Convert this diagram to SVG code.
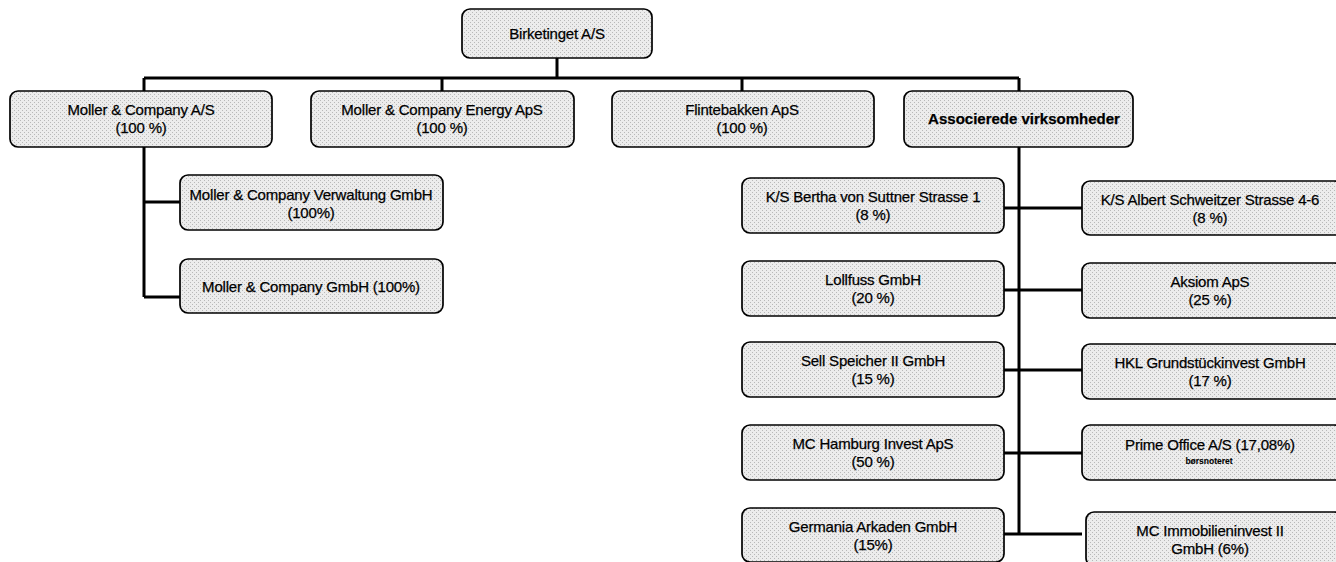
<svg xmlns="http://www.w3.org/2000/svg" width="1336" height="562" viewBox="0 0 1336 562">
<defs>
<pattern id="dots" width="4" height="4" patternUnits="userSpaceOnUse">
<rect width="4" height="4" fill="#ececec"/>
<rect x="0" y="0" width="1" height="1" fill="#b8b8b8"/>
<rect x="2" y="2" width="1" height="1" fill="#b8b8b8"/>
</pattern>
</defs>
<style>
.box{fill:url(#dots);stroke:#000;stroke-width:1.7}
.t{font-family:"Liberation Sans",Arial,sans-serif;font-size:15px;fill:#000;stroke:#000;stroke-width:0.25;text-anchor:middle;letter-spacing:-0.2px}
.b{font-weight:bold;letter-spacing:0}
.s{font-size:8.5px;font-weight:bold;letter-spacing:0;stroke-width:0.1}
.c{fill:none;stroke:#000;stroke-width:3}
</style>
<rect width="1336" height="562" fill="#fff"/>
<g id="connectors">
<path class="c" d="M557 58V78M144 78H1019M144 78V91M442 78V91M742 78V91M1019 78V91"/>
<path class="c" d="M144 147V297M144 202H180M144 297H180"/>
<path class="c" d="M1019 147V534M1004 208H1082M1004 290H1082M1004 370H1082M1004 453H1082M1004 534H1082"/>
</g>
<g id="n-birketinget"><rect class="box" x="462" y="9" width="190" height="49" rx="8"/><text class="t" x="557" y="39">Birketinget A/S</text></g>
<g id="n-moller-as"><rect class="box" x="10" y="91" width="262" height="56" rx="8"/><text class="t" x="141" y="115">Moller &amp; Company A/S</text><text class="t" x="141" y="133">(100 %)</text></g>
<g id="n-moller-energy"><rect class="box" x="311" y="91" width="263" height="56" rx="8"/><text class="t" x="442" y="115">Moller &amp; Company Energy ApS</text><text class="t" x="442" y="133">(100 %)</text></g>
<g id="n-flintebakken"><rect class="box" x="612" y="91" width="262" height="56" rx="8"/><text class="t" x="742" y="115">Flintebakken ApS</text><text class="t" x="742" y="133">(100 %)</text></g>
<g id="n-associerede"><rect class="box" x="904" y="91" width="229" height="56" rx="8"/><text class="t b" x="1024" y="124">Associerede virksomheder</text></g>
<g id="n-verwaltung"><rect class="box" x="180" y="175" width="263" height="55" rx="8"/><text class="t" x="311" y="200">Moller &amp; Company Verwaltung GmbH</text><text class="t" x="311" y="218">(100%)</text></g>
<g id="n-moller-gmbh"><rect class="box" x="180" y="259" width="263" height="54" rx="8"/><text class="t" x="311" y="292">Moller &amp; Company GmbH (100%)</text></g>
<g id="n-bertha"><rect class="box" x="742" y="178" width="262" height="55" rx="8"/><text class="t" x="873" y="202">K/S Bertha von Suttner Strasse 1</text><text class="t" x="873" y="220">(8 %)</text></g>
<g id="n-lollfuss"><rect class="box" x="742" y="261" width="262" height="55" rx="8"/><text class="t" x="873" y="285">Lollfuss GmbH</text><text class="t" x="873" y="303">(20 %)</text></g>
<g id="n-sell"><rect class="box" x="742" y="342" width="262" height="55" rx="8"/><text class="t" x="873" y="366">Sell Speicher II GmbH</text><text class="t" x="873" y="384">(15 %)</text></g>
<g id="n-hamburg"><rect class="box" x="742" y="425" width="262" height="55" rx="8"/><text class="t" x="873" y="449">MC Hamburg Invest ApS</text><text class="t" x="873" y="467">(50 %)</text></g>
<g id="n-germania"><rect class="box" x="742" y="508" width="262" height="54" rx="8"/><text class="t" x="873" y="532">Germania Arkaden GmbH</text><text class="t" x="873" y="550">(15%)</text></g>
<g id="n-albert"><rect class="box" x="1082" y="181" width="260" height="54" rx="8"/><text class="t" x="1210" y="205">K/S Albert Schweitzer Strasse 4-6</text><text class="t" x="1210" y="223">(8 %)</text></g>
<g id="n-aksiom"><rect class="box" x="1082" y="263" width="260" height="55" rx="8"/><text class="t" x="1210" y="287">Aksiom ApS</text><text class="t" x="1210" y="305">(25 %)</text></g>
<g id="n-hkl"><rect class="box" x="1082" y="344" width="260" height="55" rx="8"/><text class="t" x="1210" y="368">HKL Grundstückinvest GmbH</text><text class="t" x="1210" y="386">(17 %)</text></g>
<g id="n-prime"><rect class="box" x="1082" y="425" width="260" height="55" rx="8"/><text class="t" x="1210" y="450">Prime Office A/S (17,08%)</text><text class="t s" x="1209" y="464">børsnoteret</text></g>
<g id="n-immobilien"><rect class="box" x="1086" y="512" width="256" height="54" rx="8"/><text class="t" x="1210" y="536">MC Immobilieninvest II</text><text class="t" x="1210" y="554">GmbH (6%)</text></g>
</svg>
